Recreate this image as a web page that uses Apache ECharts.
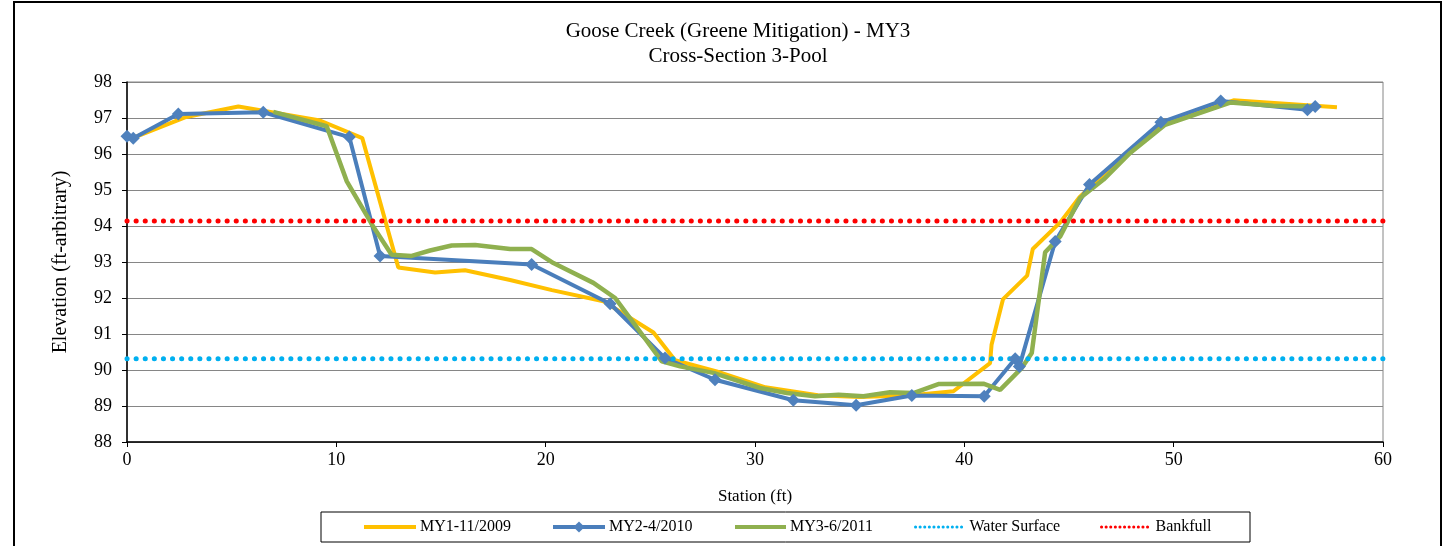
<!DOCTYPE html>
<html>
<head>
<meta charset="utf-8">
<script src="https://cdn.jsdelivr.net/npm/echarts@6/dist/echarts.min.js"></script>
<style>
  html, body { margin: 0; padding: 0; background: #fff; }
  #chart { width: 1446px; height: 546px; }
</style>
</head>
<body>
<div id="chart"></div>
<script>
// station (ft) / elevation values
const my1Station = [0.2, 2.77, 5.32, 9.22, 11.24, 12.96, 14.72, 16.15, 18.3, 20.3, 22.76, 25.15, 26.18, 28.17, 30.5, 33.0, 35.0, 37.5, 39.48, 41.23, 41.3, 41.85, 43.0, 43.27, 44.58, 45.5, 47.5, 49.4, 52.86, 57.8];
const my1Elev = [96.43, 97.02, 97.32, 96.93, 96.44, 92.85, 92.71, 92.77, 92.5, 92.22, 91.91, 91.04, 90.27, 89.96, 89.52, 89.3, 89.25, 89.3, 89.41, 90.19, 90.7, 91.97, 92.62, 93.36, 94.1, 94.8, 95.9, 96.85, 97.49, 97.3];

const my2Station = [0, 0.3, 2.45, 6.51, 10.62, 12.09, 19.33, 23.08, 25.7, 28.09, 31.83, 34.83, 37.49, 40.95, 42.43, 42.63, 44.34, 45.98, 49.39, 52.25, 56.39, 56.76];
const my2Elev = [96.49, 96.44, 97.11, 97.16, 96.47, 93.17, 92.93, 91.84, 90.33, 89.73, 89.16, 89.02, 89.29, 89.27, 90.31, 90.1, 93.57, 95.15, 96.88, 97.47, 97.23, 97.32];

const my3Station = [6.99, 9.54, 10.5, 11.8, 12.64, 13.6, 14.48, 15.51, 16.63, 18.3, 19.33, 20.37, 22.28, 23.32, 25.55, 26.42, 28.01, 30.24, 31.52, 32.87, 33.99, 35.18, 36.45, 37.57, 38.76, 40.91, 41.71, 42.75, 43.22, 43.86, 44.58, 45.53, 46.65, 47.92, 49.59, 52.7, 54.75, 56.84];
const my3Elev = [97.17, 96.77, 95.24, 93.95, 93.2, 93.17, 93.32, 93.46, 93.47, 93.36, 93.36, 92.97, 92.42, 92.0, 90.24, 90.1, 89.92, 89.5, 89.36, 89.27, 89.31, 89.27, 89.38, 89.36, 89.61, 89.62, 89.45, 90.06, 90.47, 93.27, 93.71, 94.78, 95.29, 96.03, 96.81, 97.43, 97.34, 97.32];

const levelStation = [0, 60];
const waterSurface = [90.31, 90.31];
const bankfull = [94.14, 94.14];

const seriesNames = ["MY1-11/2009", "MY2-4/2010", "MY3-6/2011", "Water Surface", "Bankfull"];

const zip = (xs, ys) => xs.map((x, i) => [x, ys[i]]);

const serif = "'Liberation Serif', 'Times New Roman', serif";

const myChart = echarts.init(document.getElementById("chart"));

// 每个图例单独放，位置跟原图对齐
const legendLeft = [362, 551, 733, 914, 1100];
const legendWidth = [52, 52, 51, 50, 50];
const legends = seriesNames.map((name, i) => {
  const lg = {
    data: [name],
    left: legendLeft[i],
    top: 519,
    padding: 0,
    itemWidth: legendWidth[i],
    itemHeight: 14,
    selectedMode: false,
    textStyle: { fontFamily: serif, fontSize: 16, color: "#000", padding: [0, 0, 0, -1] },
    lineStyle: { width: 4 },
  };
  // 只有MY2有菱形点，其它图例把圆点藏掉
  if (i !== 1) {
    lg.itemStyle = { color: "rgba(0,0,0,0)", borderWidth: 0 };
  }
  if (i >= 3) {
    lg.lineStyle = { width: 3, type: [0.1, 4.5], cap: "round" };
  }
  return lg;
});

const dotted = (color) => ({
  color: color,
  width: 5,
  type: [0.1, 9],
  cap: "round",
});

myChart.setOption({
  animation: false,
  title: {
    text: "Goose Creek (Greene Mitigation) - MY3\nCross-Section 3-Pool",
    left: 738,
    top: 19,
    padding: 0,
    textAlign: "center",
    textStyle: {
      fontFamily: serif,
      fontSize: 21,
      fontWeight: "normal",
      color: "#000",
      lineHeight: 25,
    },
  },
  legend: legends,
  grid: {
    left: 127,
    right: 63,
    top: 82,
    bottom: 104,
    show: true,
    borderColor: "#868686",
    borderWidth: 1,
  },
  xAxis: {
    type: "value",
    min: 0,
    max: 60,
    interval: 10,
    name: "Station (ft)",
    nameLocation: "middle",
    nameGap: 46,
    nameTextStyle: { fontFamily: serif, fontSize: 17, color: "#000" },
    axisLine: { onZero: false, lineStyle: { color: "#000", width: 1.5 } },
    axisTick: { show: true, length: 5, lineStyle: { color: "#000" } },
    axisLabel: { fontFamily: serif, fontSize: 18, color: "#000", margin: 9 },
    splitLine: { show: false },
  },
  yAxis: {
    type: "value",
    min: 88,
    max: 98,
    interval: 1,
    name: "Elevation (ft-arbitrary)",
    nameLocation: "middle",
    nameGap: 56,
    nameRotate: 90,
    nameTextStyle: { fontFamily: serif, fontSize: 20, color: "#000" },
    axisLine: { show: true, onZero: false, lineStyle: { color: "#000", width: 1.5 } },
    axisTick: { show: true, length: 5, lineStyle: { color: "#000" } },
    axisLabel: { fontFamily: serif, fontSize: 18, color: "#000", margin: 15 },
    splitLine: { show: true, lineStyle: { color: "#868686", width: 1 } },
  },
  graphic: [
    {
      type: "rect",
      shape: { x: 14, y: 2, width: 1427, height: 620 },
      style: { fill: "none", stroke: "#000", lineWidth: 2 },
      silent: true,
      z: -1,
    },
    {
      type: "rect",
      shape: { x: 321, y: 512, width: 929, height: 30 },
      style: { fill: "none", stroke: "#000", lineWidth: 1 },
      silent: true,
      z: -1,
    },
  ],
  series: [
    {
      name: seriesNames[0],
      type: "line",
      data: zip(my1Station, my1Elev),
      symbol: "none",
      lineStyle: { color: "#FFC000", width: 4 },
      itemStyle: { color: "#FFC000" },
    },
    {
      name: seriesNames[1],
      type: "line",
      data: zip(my2Station, my2Elev),
      symbol: "diamond",
      symbolSize: 13,
      lineStyle: { color: "#4A7EBB", width: 4 },
      itemStyle: { color: "#4F81BD" },
    },
    {
      name: seriesNames[2],
      type: "line",
      data: zip(my3Station, my3Elev),
      symbol: "none",
      lineStyle: { color: "#8FB04F", width: 4.5 },
      itemStyle: { color: "#8FB04F" },
    },
    {
      name: seriesNames[3],
      type: "line",
      data: zip(levelStation, waterSurface),
      symbol: "none",
      lineStyle: dotted("#00B0F0"),
      itemStyle: { color: "#00B0F0" },
    },
    {
      name: seriesNames[4],
      type: "line",
      data: zip(levelStation, bankfull),
      symbol: "none",
      lineStyle: dotted("#FF0000"),
      itemStyle: { color: "#FF0000" },
    },
  ],
});
</script>
</body>
</html>
